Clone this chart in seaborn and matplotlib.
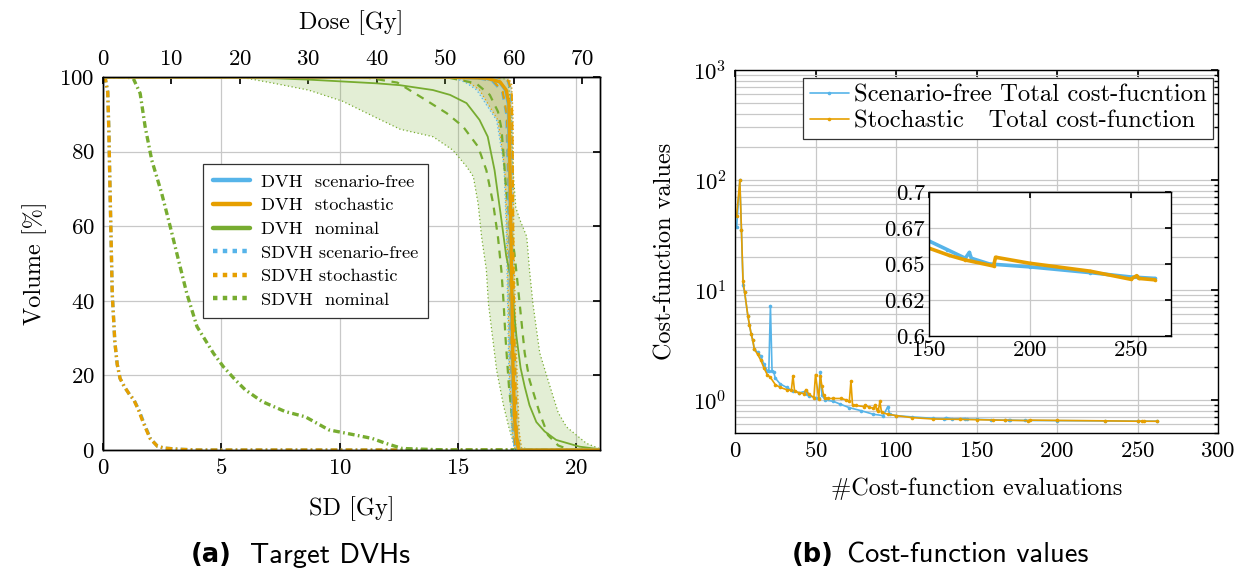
import numpy as np
import matplotlib
matplotlib.use("Agg")
import matplotlib.pyplot as plt
from matplotlib.lines import Line2D
from matplotlib.ticker import LogLocator, NullFormatter
import seaborn as sns

# ---------------- data: left panel (DVH vs dose, SDVH vs SD) ----------------
dvh_sto_dose = [0, 50, 56.0, 58.0, 58.9, 59.3, 59.45, 59.66, 59.9, 60.15, 60.4, 60.7, 72.6]
dvh_sto_vol = [100, 100, 99.7, 98.7, 96.5, 92.9, 75, 50, 21, 8, 3.6, 0, 0]
dvh_sf_dose = [0, 50, 55.8, 57.9, 58.8, 59.2, 59.4, 59.6, 59.85, 60.1, 60.35, 60.65, 72.6]
dvh_sf_vol = [100, 100, 99.7, 98.7, 96.5, 92.9, 75, 50, 21, 8, 3.6, 0, 0]

sto_dash_lo_dose = [0, 54, 57.0, 58.4, 59.0, 59.3, 59.45, 59.65, 60.0, 60.3, 72.6]
sto_dash_lo_vol = [100, 100, 99, 96, 90, 70, 50, 25, 5, 0, 0]
sto_dash_hi_dose = [0, 57.5, 59.2, 59.7, 59.85, 59.95, 60.15, 60.45, 60.8, 72.6]
sto_dash_hi_vol = [100, 100, 99, 96, 80, 50, 25, 5, 0, 0]
sf_dash_lo_dose = [0, 53.5, 56.8, 58.3, 58.9, 59.2, 59.35, 59.55, 59.9, 60.2, 72.6]
sf_dash_hi_dose = [0, 57.3, 59.1, 59.6, 59.75, 59.85, 60.05, 60.35, 60.7, 72.6]

sto_band_lo_dose = [51.6, 53.5, 55.0, 56.5, 57.7, 58.4, 58.7, 59.0, 59.2, 59.4, 59.8, 60.2]
sto_band_lo_vol = [100, 98.5, 96.5, 92, 88.4, 79.5, 75, 60, 40, 20, 5, 0]
sto_band_hi_dose = [59.2, 59.7, 59.9, 60.0, 60.2, 60.5, 60.8, 61.2]
sto_band_hi_vol = [100, 98, 90, 60, 40, 20, 5, 0]
sf_band_lo_dose = [51.0, 53.0, 54.6, 56.2, 57.5, 58.3, 58.6, 58.9, 59.1, 59.3, 59.7, 60.1]
sf_band_hi_dose = [59.1, 59.6, 59.8, 59.9, 60.1, 60.4, 60.7, 61.1]

dvh_nom_dose = [0, 20, 30, 40, 43.4, 48.2, 50.7, 53.1, 55.0, 56.2, 57.2, 58.2, 58.9, 59.6,
                60.1, 60.4, 61.0, 61.6, 62.3, 63.3, 64.5, 66.2, 69.6, 72.6]
dvh_nom_vol = [100, 100, 99.3, 98.3, 97.8, 96.5, 95.2, 93, 88.5, 84, 75, 61.7, 52, 46,
               36, 30.4, 22, 17, 12, 7.5, 5, 2.7, 0.9, 0.2]
nom_dash_lo_dose = [0, 38, 43, 47, 50.2, 52.6, 54.8, 56.0, 57.0, 57.7, 58.2, 58.5, 58.8,
                    59.3, 59.9, 60.9, 62, 72.6]
nom_dash_lo_vol = [100, 100, 98.5, 94, 90.3, 86.7, 81.3, 75, 66, 57, 48, 40, 30, 17, 6, 0.9, 0, 0]
nom_dash_hi_dose = [0, 50, 54.5, 56.5, 57.7, 58.2, 58.5, 58.8, 59.4, 60.1, 60.6, 61.1, 61.6,
                    62.3, 63.8, 65.0, 66.5, 68, 72.6]
nom_dash_hi_vol = [100, 100, 98.3, 95.2, 90.7, 86.2, 79.5, 72, 61.7, 52.7, 44, 35, 26, 18.8,
                   9.8, 4, 1.2, 0.2, 0]
nom_band_lo_dose = [20, 25, 30, 35, 40, 43.4, 48.2, 51.1, 53.1, 54.1, 54.8, 55.3, 56.0, 56.3,
                    57.5, 58.5, 59.3, 60.1, 60.8]
nom_band_lo_vol = [100, 98.3, 96.5, 93.5, 89, 86, 84, 80.4, 76, 73.3, 66, 57.2, 48.3, 39.3,
                   21.4, 12, 6, 1, 0]
nom_band_hi_dose = [58, 59.2, 59.6, 59.9, 60.3, 60.9, 61.9, 62.3, 62.8, 63.8, 64.8, 65.3,
                    66.5, 67.7, 70.6, 72.6]
nom_band_hi_vol = [100, 99, 90, 75, 65, 61.7, 57.2, 48.3, 39.3, 26, 20, 17, 10, 6.2, 1.8, 0.3]

sdvh_sto_sd = [0, 0.1, 0.2, 0.25, 0.28, 0.33, 0.39, 0.5, 0.6, 0.72, 0.9, 1.14, 1.3, 1.5,
               1.71, 1.99, 2.3, 2.6, 3.2, 4, 21]
sdvh_sto_vol = [100, 99.5, 96, 85, 75, 60, 42, 29, 23, 19.2, 17, 14.7, 13.5, 10.7, 7.2, 3.1,
                1, 0.5, 0.2, 0, 0]
sdvh_sf_sd = [0, 0.1, 0.2, 0.25, 0.28, 0.33, 0.39, 0.5, 0.6, 0.72, 0.9, 1.14, 1.3, 1.52,
              1.73, 2.0, 2.3, 2.6, 3.2, 4, 21]
sdvh_sf_vol = sdvh_sto_vol
sdvh_nom_sd = [0, 1.0, 1.28, 1.57, 1.78, 2.06, 2.48, 2.84, 3.19, 3.54, 3.97, 4.67, 5.09, 5.59,
               6.0, 6.72, 7.7, 8.55, 9.54, 10.67, 11.37, 11.94, 12.65, 13.6, 14.5, 21]
sdvh_nom_vol = [100, 100, 99.6, 95.6, 86.7, 77.7, 68.8, 59.9, 50.9, 42, 33.1, 25.9, 22.3,
                18.8, 16.2, 13, 10.3, 8.9, 5.4, 4.0, 3.1, 1.8, 0.4, 0.2, 0, 0]

left_legend_labels = ["DVH  scenario-free", "DVH  stochastic", "DVH  nominal",
                      "SDVH scenario-free", "SDVH stochastic", "SDVH  nominal"]

# ---------------- data: right panel (cost-function values) ----------------
sf_x = [1, 3, 4, 5, 6, 8, 9, 10, 11, 12, 14, 16, 18, 20, 21, 22, 23, 24, 25, 28, 32, 36, 40,
        44, 45, 46, 50, 52, 53, 54, 56, 61, 65, 71, 78, 86, 92, 95, 96, 100, 110, 123, 130,
        131, 135, 143, 144, 150, 159, 168, 170, 171, 180, 200, 230, 250, 262]
sf_y = [37, 99, 35, 11, 9.5, 5.8, 4.8, 4.0, 3.5, 2.9, 2.7, 2.5, 2.1, 1.85, 1.82, 7.2, 1.85,
        1.8, 1.58, 1.40, 1.30, 1.20, 1.16, 1.20, 1.12, 1.09, 1.05, 1.03, 1.78, 1.10, 1.00,
        0.97, 0.92, 0.85, 0.80, 0.74, 0.72, 0.87, 0.74, 0.72, 0.70, 0.68, 0.675, 0.69, 0.672,
        0.677, 0.668, 0.666, 0.660, 0.654, 0.658, 0.654, 0.650, 0.648, 0.644, 0.641, 0.640]
st_x = [1, 3, 4, 5, 6, 8, 9, 10, 11, 12, 14, 16, 18, 20, 22, 25, 28, 32, 35, 36, 37, 40, 43,
        44, 46, 49, 50, 52, 53, 54, 55, 56, 58, 61, 66, 69, 71, 72, 73, 75, 80, 81, 83, 86,
        87, 88, 89, 90, 91, 95, 100, 110, 123, 140, 150, 160, 168, 182, 183, 200, 230, 250,
        253, 254, 262]
st_y = [47, 99, 35, 12, 9.5, 5.8, 4.8, 4.0, 3.5, 2.9, 2.6, 2.3, 1.95, 1.7, 1.6, 1.38, 1.30,
        1.24, 1.22, 1.66, 1.2, 1.16, 1.14, 1.24, 1.12, 1.05, 1.70, 1.02, 1.66, 1.33, 1.10,
        1.04, 1.03, 1.03, 1.03, 1.0, 0.97, 1.48, 0.90, 0.89, 0.87, 0.90, 0.86, 0.84, 0.90,
        0.82, 0.80, 0.97, 0.77, 0.74, 0.72, 0.69, 0.67, 0.665, 0.661, 0.656, 0.6528, 0.6486,
        0.6547, 0.6505, 0.645, 0.6394, 0.6419, 0.6400, 0.639]
right_legend_labels = ["Scenario-free Total cost-fucntion", "Stochastic   Total cost-function"]
inset_yticks = [0.6, 0.625, 0.65, 0.675, 0.7]
inset_yticklabels = ["0.6", "0.62", "0.65", "0.67", "0.7"]

# ---------------- style ----------------
BLUE, ORANGE, GREEN = "#56B4E9", "#E69F00", "#77AC30"
GRID = "#c8c8c8"
sns.set_theme(style="white")
plt.rcParams.update({
    "font.family": ["cmr10", "DejaVu Serif"],
    "mathtext.fontset": "cm",
    "axes.formatter.use_mathtext": True,
    "axes.unicode_minus": False,
    "axes.edgecolor": "black",
    "axes.linewidth": 1.0,
    "xtick.color": "black",
    "ytick.color": "black",
    "text.color": "black",
    "axes.labelcolor": "black",
})
FS = 16.5

fig = plt.figure(figsize=(12.45, 5.77), dpi=100)
W, H = 1245, 577


def fax(l, t, r, b):
    return [l / W, 1 - b / H, (r - l) / W, (b - t) / H]


def line(ax, x, y, **kw):
    sns.lineplot(x=x, y=y, ax=ax, estimator=None, sort=False, legend=False, **kw)


# ================= left panel =================
ax = fig.add_axes(fax(103, 77, 600, 450))
ax.set_xlim(0, 21)
ax.set_ylim(0, 100)
ax.set_xticks([0, 5, 10, 15, 20])
ax.set_yticks([0, 20, 40, 60, 80, 100])
ax.grid(True, color=GRID, lw=0.9)
ax.tick_params(direction="in", length=5, right=True, labelsize=FS, pad=6)
ax.set_xlabel("SD [Gy]", fontsize=FS + 1, labelpad=13)
ax.set_ylabel("Volume [%]", fontsize=FS + 1, labelpad=9)

dashdot = (0, (2, 1, 0.5, 1))
line(ax, sdvh_sf_sd, sdvh_sf_vol, color=BLUE, lw=2.4, linestyle=dashdot)
line(ax, sdvh_sto_sd, sdvh_sto_vol, color=ORANGE, lw=2.4, linestyle=dashdot)
line(ax, sdvh_nom_sd, sdvh_nom_vol, color=GREEN, lw=2.4, linestyle=dashdot)

ax2 = ax.twiny()
ax2.set_xlim(0, 72.6)
ax2.set_ylim(0, 100)
ax2.set_xticks(range(0, 80, 10))
ax2.tick_params(direction="in", length=5, labelsize=FS, pad=6)
ax2.set_xlabel("Dose [Gy]", fontsize=FS + 1, labelpad=14)
ax2.grid(False)

# nominal band
ax2.fill(np.r_[nom_band_lo_dose, nom_band_hi_dose[::-1]],
         np.r_[nom_band_lo_vol, nom_band_hi_vol[::-1]], color=GREEN, alpha=0.2, lw=0)
line(ax2, nom_band_lo_dose, nom_band_lo_vol, color=GREEN, lw=0.9, linestyle=(0, (1, 2)))
line(ax2, nom_band_hi_dose, nom_band_hi_vol, color=GREEN, lw=0.9, linestyle=(0, (1, 2)))
# scenario-free / stochastic bands
ax2.fill(np.r_[sf_band_lo_dose, sf_band_hi_dose[::-1]],
         np.r_[sto_band_lo_vol, sto_band_hi_vol[::-1]], color=BLUE, alpha=0.2, lw=0)
ax2.fill(np.r_[sto_band_lo_dose, sto_band_hi_dose[::-1]],
         np.r_[sto_band_lo_vol, sto_band_hi_vol[::-1]], color=ORANGE, alpha=0.25, lw=0)
for xs, c in [(sf_band_lo_dose, BLUE), (sto_band_lo_dose, ORANGE)]:
    line(ax2, xs, sto_band_lo_vol, color=c, lw=0.9, linestyle=(0, (1, 2)))
for xs, c in [(sf_band_hi_dose, BLUE), (sto_band_hi_dose, ORANGE)]:
    line(ax2, xs, sto_band_hi_vol, color=c, lw=0.9, linestyle=(0, (1, 2)))

# dashed percentile curves
dashed = (0, (3.5, 3))
line(ax2, nom_dash_lo_dose, nom_dash_lo_vol, color=GREEN, lw=1.6, linestyle=dashed)
line(ax2, nom_dash_hi_dose, nom_dash_hi_vol, color=GREEN, lw=1.6, linestyle=dashed)
line(ax2, sf_dash_lo_dose, sto_dash_lo_vol, color=BLUE, lw=1.6, linestyle=dashed)
line(ax2, sf_dash_hi_dose, sto_dash_hi_vol, color=BLUE, lw=1.6, linestyle=dashed)
line(ax2, sto_dash_lo_dose, sto_dash_lo_vol, color=ORANGE, lw=1.6, linestyle=dashed)
line(ax2, sto_dash_hi_dose, sto_dash_hi_vol, color=ORANGE, lw=1.6, linestyle=dashed)

# solid DVHs
line(ax2, dvh_nom_dose, dvh_nom_vol, color=GREEN, lw=1.3)
line(ax2, dvh_sf_dose, dvh_sf_vol, color=BLUE, lw=2.4)
line(ax2, dvh_sto_dose, dvh_sto_vol, color=ORANGE, lw=2.4)

handles = [Line2D([0], [0], color=c, lw=3.2) for c in (BLUE, ORANGE, GREEN)] + \
          [Line2D([0], [0], color=c, lw=3.2, linestyle=(0, (1, 1.2))) for c in (BLUE, ORANGE, GREEN)]
leg = ax2.legend(handles, left_legend_labels, loc="upper left",
                 bbox_to_anchor=(203 / W, 1 - 164 / H), bbox_transform=fig.transFigure,
                 borderaxespad=0, fontsize=13.2, frameon=True, fancybox=False,
                 edgecolor="#333333", framealpha=1, handlelength=2.0, handletextpad=0.6,
                 labelspacing=0.42, borderpad=0.55)
leg.get_frame().set_linewidth(0.9)

# ================= right panel =================
axr = fig.add_axes(fax(735, 70, 1218, 433))
axr.set_yscale("log")
axr.set_xlim(0, 300)
axr.set_ylim(0.5, 1000)
axr.set_xticks(range(0, 301, 50))
axr.yaxis.set_major_locator(LogLocator(base=10, numticks=10))
axr.yaxis.set_minor_locator(LogLocator(base=10, subs=np.arange(2, 10), numticks=20))
axr.yaxis.set_minor_formatter(NullFormatter())
axr.grid(True, which="major", color=GRID, lw=0.9)
axr.grid(True, which="minor", axis="y", color=GRID, lw=0.9)
axr.tick_params(which="both", direction="in", right=True, top=True, labelsize=FS, pad=6)
axr.tick_params(which="major", length=5)
axr.tick_params(which="minor", length=3)
axr.set_xlabel("#Cost-function evaluations", fontsize=FS + 1, labelpad=12)
axr.set_ylabel("Cost-function values", fontsize=FS + 1, labelpad=12)

line(axr, sf_x, sf_y, color=BLUE, lw=1.2, marker="o", markersize=2.6, markeredgewidth=0)
line(axr, st_x, st_y, color=ORANGE, lw=1.2, marker="o", markersize=2.6, markeredgewidth=0)

rh = [Line2D([0], [0], color=c, lw=1.2, marker="o", markersize=2.6, markeredgewidth=0)
      for c in (BLUE, ORANGE)]
leg2 = axr.legend(rh, right_legend_labels, loc="upper right",
                  bbox_to_anchor=(1213 / W, 1 - 78 / H), bbox_transform=fig.transFigure,
                  borderaxespad=0, fontsize=17.8, frameon=True, fancybox=False,
                  edgecolor="#333333", framealpha=1, handlelength=1.6, handletextpad=0.2,
                  labelspacing=0.15, borderpad=0.25)
leg2.get_frame().set_linewidth(0.9)

# inset
axi = fig.add_axes(fax(929, 192, 1171, 336))
axi.set_xlim(150, 270)
axi.set_ylim(0.6, 0.7)
axi.set_xticks([150, 200, 250])
axi.set_yticks(inset_yticks)
axi.set_yticklabels(inset_yticklabels)
axi.grid(True, color=GRID, lw=0.9)
axi.tick_params(direction="in", length=4, right=True, top=True, labelsize=FS, pad=3)
line(axi, sf_x, sf_y, color=BLUE, lw=2.6, marker="o", markersize=2.6, markeredgewidth=0)
line(axi, st_x, st_y, color=ORANGE, lw=2.6, marker="o", markersize=2.6, markeredgewidth=0)
axi.set_xlabel("")
axi.set_ylabel("")

# captions
cy = 1 - 555 / H
fig.text(232 / W, cy, "(a)", ha="right", va="center", fontsize=18.5,
         family="DejaVu Sans", weight="bold")
fig.text(250 / W, cy, "Target DVHs", ha="left", va="center", fontsize=20.5, family="cmss10")
fig.text(834 / W, cy, "(b)", ha="right", va="center", fontsize=18.5,
         family="DejaVu Sans", weight="bold")
fig.text(847 / W, cy, "Cost-function values", ha="left", va="center", fontsize=20.5,
         family="cmss10")

fig.savefig("out.png", dpi=100)
